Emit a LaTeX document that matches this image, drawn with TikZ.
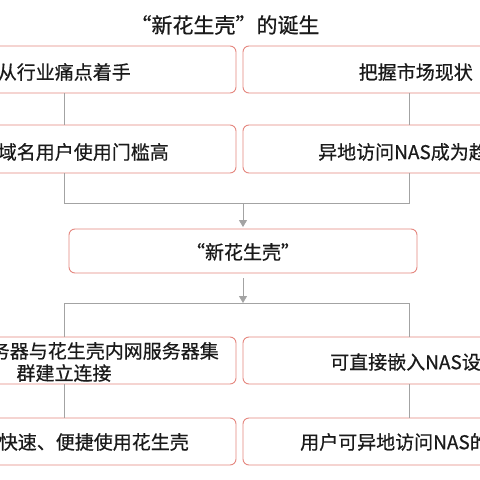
\documentclass[tikz,border=0pt]{standalone}
\usepackage{fontspec}
\setmainfont{Noto Sans CJK SC}[FakeBold=0.6]
\usetikzlibrary{arrows.meta}
\definecolor{boxred}{HTML}{E5877F}
\definecolor{linegray}{HTML}{A3A3A3}
\definecolor{txt}{HTML}{1A1A1A}
\tikzset{
  box/.style={draw=boxred, line width=0.9pt, rounded corners=6pt, fill=white, inner sep=0pt, minimum width=346pt, minimum height=47pt},
  rowtxt/.style={text=txt, inner sep=0pt, font=\fontsize{19}{23}\selectfont},
  conn/.style={draw=linegray, line width=0.8pt},
  arr/.style={conn, -{Triangle[length=7pt,width=8pt]}}
}
\begin{document}
\begin{tikzpicture}[x=1pt,y=-1pt]
\useasboundingbox (0,0) rectangle (480,480);
\fill[white] (0,0) rectangle (480,480);
\clip (0,0) rectangle (480,480);
% title
\node[text=txt, inner sep=0pt, font=\fontsize{21}{25}\selectfont] (title) at (225,25) {“新花生壳”的诞生};
% boxes
\node[box] (l1) at (63,69.5) {};
\node[box] (r1) at (416,69.5) {};
\node[box, minimum height=48pt] (l2) at (63,149) {};
\node[box, minimum height=48pt] (r2) at (416,149) {};
\node[box, minimum width=348pt, minimum height=44pt] (mid) at (243,251) {};
\node[box] (l3) at (63,360.5) {};
\node[box] (r3) at (416,360.5) {};
\node[box] (l4) at (63,441.5) {};
\node[box] (r4) at (416,441.5) {};
% texts
\node[rowtxt, anchor=east] (t1l) at (131,72) {从行业痛点着手};
\node[rowtxt, anchor=east] (t1r) at (473,72) {把握市场现状};
\node[rowtxt, anchor=east] (t2l) at (169,152) {域名用户使用门槛高};
\node[rowtxt, anchor=west] (t2r) at (318,152) {异地访问NAS成为趋};
\node[rowtxt] (tm) at (243,252) {“新花生壳"};
\node[rowtxt, anchor=east] (t3la) at (219,351) {务器与花生壳内网服务器集};
\node[rowtxt] (t3lb) at (64,373) {群建立连接};
\node[rowtxt, anchor=west] (t3r) at (330,362) {可直接嵌入NAS设};
\node[rowtxt, anchor=east] (t4l) at (189,442) {快速、便捷使用花生壳};
\node[rowtxt, anchor=west] (t4r) at (300,442) {用户可异地访问NAS的};
% junction coordinates
\coordinate (jl) at (64,203);
\coordinate (jr) at (409,203);
\coordinate (jm) at (243,203);
\coordinate (kl) at (64,303);
\coordinate (kr) at (409,303);
\coordinate (km) at (243,303);
% connectors
\draw[conn] (l1.south -| jl) -- (l2.north -| jl);
\draw[conn] (r1.south -| jr) -- (r2.north -| jr);
\draw[conn] (l2.south -| jl) -- (jl) -- (jr) -- (r2.south -| jr);
\draw[arr, shorten >=1.5pt] (jm) -- (mid.north);
\draw[arr, shorten <=5pt] (mid.south) -- (km);
\draw[conn] (l3.north -| kl) -- (kl) -- (kr) -- (r3.north -| kr);
\draw[conn] (l3.south -| kl) -- (l4.north -| kl);
\draw[conn] (r3.south -| kr) -- (r4.north -| kr);
\end{tikzpicture}
\end{document}
